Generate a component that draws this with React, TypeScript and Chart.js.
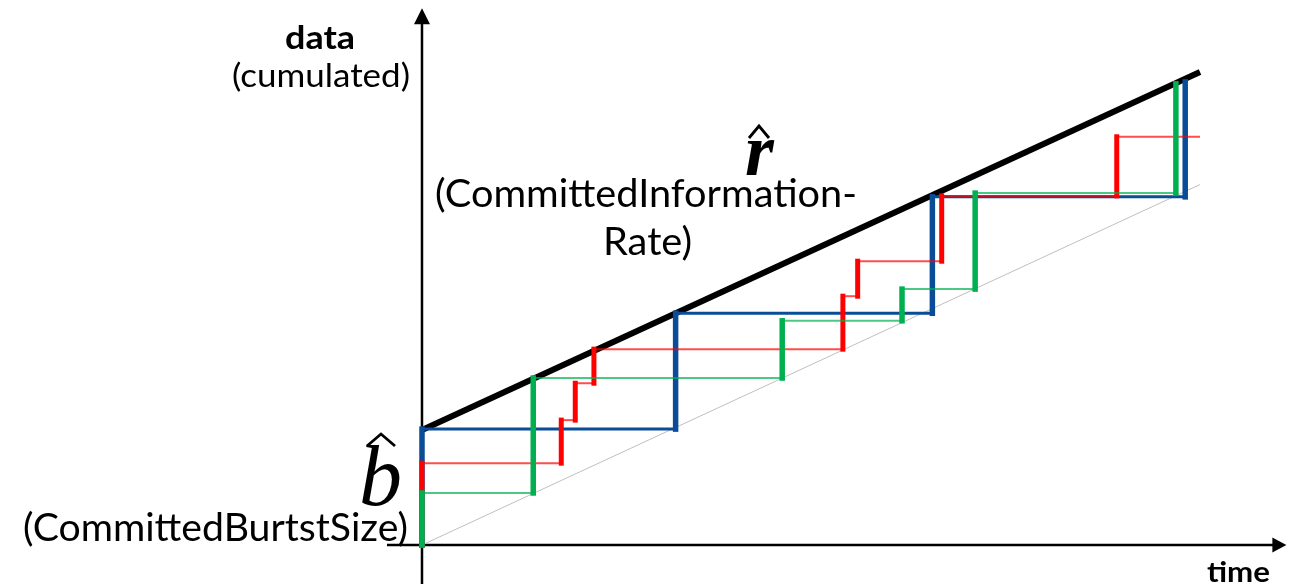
import React, { useEffect, useRef } from "react";
import { Chart, registerables } from "chart.js";

Chart.register(...registerables);

// time (0..100) and cumulated data (0..100)
const envelopeT = [0, 100];
const envelopeV = [24.3, 100];
const baselineT = [0, 100];
const baselineV = [0, 76.2];

const blueT = [0, 0, 32.6, 32.6, 65.6, 65.6, 98.1, 98.1];
const blueV = [0, 24.5, 24.5, 49.0, 49.0, 73.6, 73.6, 97.9];

const redT = [0, 0, 17.9, 17.9, 19.7, 19.7, 22.1, 22.1, 54.1, 54.1, 56.0, 56.0, 66.8, 66.8, 89.3, 89.3, 100];
const redV = [0, 17.3, 17.3, 26.4, 26.4, 34.2, 34.2, 41.4, 41.4, 52.6, 52.6, 60.0, 60.0, 73.8, 73.8, 86.3, 86.3];

const greenT = [0, 0, 14.3, 14.3, 46.3, 46.3, 61.7, 61.7, 71.1, 71.1, 96.9, 96.9];
const greenV = [0, 11.0, 11.0, 35.3, 35.3, 47.4, 47.4, 54.1, 54.1, 74.4, 74.4, 97.5];

// axis extents (arrow tails and tips)
const timeAxisRange = [-4.5, 111.1];
const dataAxisRange = [-8.3, 113.5];

const toPts = (t: number[], v: number[]) => t.map((x, i) => ({ x, y: v[i] }));

const stepDataset = (
  label: string,
  t: number[],
  v: number[],
  vColor: string,
  hColor: string,
  vWidth: number,
  hWidth: number,
  order: number
) => ({
  label,
  data: toPts(t, v),
  borderColor: vColor,
  borderWidth: vWidth,
  pointRadius: 0,
  fill: false,
  tension: 0,
  order,
  segment: {
    borderColor: (c: any) => (c.p0.parsed.x === c.p1.parsed.x ? vColor : hColor),
    borderWidth: (c: any) => (c.p0.parsed.x === c.p1.parsed.x ? vWidth : hWidth),
    borderCapStyle: (c: any) => (c.p0.parsed.x === c.p1.parsed.x ? "square" : "butt"),
  },
});

const axesPlugin = {
  id: "arrowAxes",
  beforeDatasetsDraw(chart: any) {
    const { ctx, scales } = chart;
    const xs = scales.x;
    const ys = scales.y;
    const x0 = xs.getPixelForValue(0);
    const y0 = ys.getPixelForValue(0);
    ctx.save();
    ctx.strokeStyle = "#000";
    ctx.fillStyle = "#000";
    ctx.lineWidth = 2.5;
    const xa = xs.getPixelForValue(timeAxisRange[0]);
    const xb = xs.getPixelForValue(timeAxisRange[1]);
    ctx.beginPath();
    ctx.moveTo(xa, y0);
    ctx.lineTo(xb - 12, y0);
    ctx.stroke();
    ctx.beginPath();
    ctx.moveTo(xb, y0);
    ctx.lineTo(xb - 14, y0 - 7.5);
    ctx.lineTo(xb - 14, y0 + 7.5);
    ctx.closePath();
    ctx.fill();
    const ya = ys.getPixelForValue(dataAxisRange[0]);
    const yb = ys.getPixelForValue(dataAxisRange[1]);
    ctx.beginPath();
    ctx.moveTo(x0, ya);
    ctx.lineTo(x0, yb + 14);
    ctx.stroke();
    ctx.beginPath();
    ctx.moveTo(x0, yb);
    ctx.lineTo(x0 - 8, yb + 16);
    ctx.lineTo(x0 + 8, yb + 16);
    ctx.closePath();
    ctx.fill();
    ctx.restore();
  },
};

const FONT = "Lato, 'Open Sans', sans-serif";

// draw text at a given size, squeezed horizontally to span [left, right]
const fitText = (
  ctx: CanvasRenderingContext2D,
  text: string,
  weight: string,
  size: number,
  left: number,
  right: number,
  baseline: number
) => {
  ctx.font = `${weight} ${size}px ${FONT}`;
  ctx.textAlign = "left";
  ctx.textBaseline = "alphabetic";
  const w = ctx.measureText(text).width;
  const sx = (right - left) / w;
  ctx.save();
  ctx.translate(left, baseline);
  ctx.scale(sx, 1);
  ctx.fillText(text, 0, 0);
  ctx.restore();
};

const hat = (ctx: CanvasRenderingContext2D, l: number, r: number, bottom: number, top: number) => {
  ctx.beginPath();
  ctx.moveTo(l, bottom);
  ctx.lineTo((l + r) / 2, top);
  ctx.lineTo(r, bottom);
  ctx.lineWidth = 2.8;
  ctx.lineJoin = "miter";
  ctx.stroke();
};

const labelsPlugin = {
  id: "labels",
  afterDatasetsDraw(chart: any) {
    const ctx: CanvasRenderingContext2D = chart.ctx;
    ctx.save();
    ctx.fillStyle = "#000";
    ctx.strokeStyle = "#000";
    fitText(ctx, "data", "bold", 33, 285, 355, 49);
    fitText(ctx, "(cumulated)", "normal", 32.5, 232, 410, 87);
    fitText(ctx, "(CommittedInformation-", "normal", 38, 435, 857, 207);
    fitText(ctx, "Rate)", "normal", 38, 603, 692, 255);
    fitText(ctx, "(CommittedBurtstSize)", "normal", 38, 23, 408, 541);
    fitText(ctx, "time", "bold", 29, 1207, 1270, 582);

    ctx.font = "italic bold 74px 'Liberation Serif', 'DejaVu Serif', serif";
    ctx.textAlign = "left";
    ctx.fillText("r", 745, 175);
    hat(ctx, 749, 769, 138, 126);

    ctx.font = "italic 86px 'Liberation Serif', 'DejaVu Serif', serif";
    ctx.fillText("b", 359, 505);
    hat(ctx, 367, 395, 446, 434);
    ctx.restore();
  },
};

export default function App() {
  const ref = useRef<HTMLCanvasElement | null>(null);

  useEffect(() => {
    if (!ref.current) return;
    const chart = new Chart(ref.current, {
      type: "line",
      data: {
        datasets: [
          stepDataset("green", greenT, greenV, "#00B050", "rgba(0,176,80,0.7)", 5.5, 2, 0),
          stepDataset("red", redT, redV, "#FF0000", "rgba(255,0,0,0.7)", 5, 2, 1),
          stepDataset("blue", blueT, blueV, "#0A4C97", "#0A4C97", 5.5, 3, 2),
          {
            label: "rate",
            data: toPts(envelopeT, envelopeV),
            borderColor: "#000",
            borderWidth: 6,
            pointRadius: 0,
            fill: false,
            order: 3,
          } as any,
          {
            label: "base",
            data: toPts(baselineT, baselineV),
            borderColor: "#BFBFBF",
            borderWidth: 1,
            pointRadius: 0,
            fill: false,
            order: 4,
          } as any,
        ],
      },
      options: {
        animation: false,
        responsive: false,
        maintainAspectRatio: false,
        layout: { padding: 0 },
        plugins: {
          legend: { display: false },
          tooltip: { enabled: false },
          title: { display: false },
        },
        scales: {
          x: { type: "linear", display: false, min: -54.24, max: 111.44 },
          y: { type: "linear", display: false, min: -8.245, max: 115.22 },
        },
      },
      plugins: [axesPlugin, labelsPlugin],
    } as any);
    return () => chart.destroy();
  }, []);

  return (
    <div style={{ position: "fixed", left: 0, top: 0, width: 1289, height: 584, background: "#fff" }}>
      <canvas ref={ref} width={1289} height={584} style={{ display: "block" }} />
    </div>
  );
}
